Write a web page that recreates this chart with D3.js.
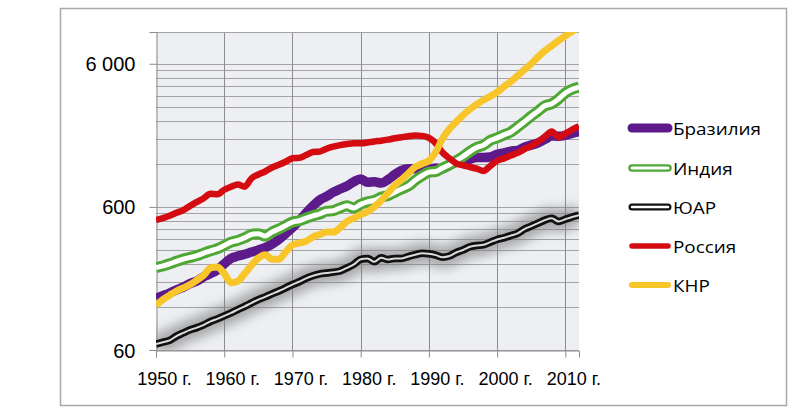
<!DOCTYPE html>
<html><head><meta charset="utf-8">
<script src="https://cdn.jsdelivr.net/npm/d3@7"></script>
<style>body{margin:0;background:#fff;} svg{display:block;}</style>
</head><body><svg id="c" width="800" height="418"></svg>
<script>
const years = d3.range(1950, 2013);
const brazil = [138,144,150,158,165,175,182,195,205,218,240,262,272,280,290,300,312,330,355,390,430,480,545,610,670,710,760,800,840,900,940,890,900,880,930,1010,1080,1110,1110,1140,1100,1120,1110,1170,1230,1270,1290,1330,1330,1340,1400,1430,1470,1490,1570,1620,1680,1780,1880,1870,1900,1960,2010];
const india = [226,232,240,250,259,266,274,285,296,306,322,340,350,365,385,390,375,400,420,445,470,480,500,520,535,560,565,590,610,590,625,650,665,700,720,760,800,840,920,990,1050,1060,1120,1180,1260,1350,1460,1560,1620,1750,1820,1910,2000,2170,2360,2580,2800,3050,3150,3400,3750,3980,4120];
const sa = [66,68,70,75,79,83,86,90,95,99,104,109,115,121,128,135,141,148,155,163,172,180,190,198,204,207,210,214,225,238,258,262,248,265,257,262,262,270,278,284,282,276,267,272,288,300,316,322,326,340,355,365,378,392,420,440,462,485,500,474,492,510,525];
const russia = [485,500,520,545,570,610,650,690,740,735,790,830,860,830,950,1010,1060,1130,1180,1240,1310,1320,1380,1450,1460,1530,1580,1620,1650,1670,1670,1690,1720,1740,1770,1810,1840,1870,1890,1880,1820,1670,1440,1310,1210,1170,1140,1110,1070,1160,1260,1310,1370,1430,1520,1600,1710,1860,2020,1840,1950,2080,2200];
const china = [123,135,145,155,163,172,185,200,225,228,205,177,182,205,235,263,278,258,258,290,325,335,345,370,385,400,400,430,475,500,530,555,600,665,750,850,930,1030,1140,1200,1260,1450,1800,2100,2350,2620,2880,3120,3350,3550,3800,4150,4500,4950,5450,6000,6700,7400,8000,8700,9400,10100,10800];
const seriesNames = ["Бразилия","Индия","ЮАР","Россия","КНР"];
const yTickValues = [60, 600, 6000];
const yTickLabels = ["60", "600", "6 000"];
const xTickValues = [1950, 1960, 1970, 1980, 1990, 2000, 2010];
const xTickLabels = ["1950 г.", "1960 г.", "1970 г.", "1980 г.", "1990 г.", "2000 г.", "2010 г."];

const seriesData = [brazil, india, sa, russia, china];
const styles = [
  {color:"#5c1a8b", w:9.5, inner:null, lw:9},
  {color:"#4fa834", w:11, inner:5, lw:7.5, lin:3},
  {color:"#111111", w:7.5, inner:2, lw:7, lin:2.5, glow:true},
  {color:"#d40b10", w:6.5, inner:null, lw:5.5},
  {color:"#f8c52a", w:7, inner:null, lw:6}
];

const svg = d3.select("#c");
const L = 156, R = 579, T = 32, B = 350;
const x = d3.scaleLinear().domain([1950, 2012]).range([L, R]);
const y = d3.scaleLog().domain([60, 10000]).range([B, T]);

const defs = svg.append("defs");
defs.append("clipPath").attr("id","clip").append("rect").attr("x",L).attr("y",T).attr("width",R-L).attr("height",B-T);
const f = defs.append("filter").attr("id","blur").attr("x","-20%").attr("y","-100%").attr("width","140%").attr("height","300%");
f.append("feGaussianBlur").attr("stdDeviation",5.5);

// outer frame
svg.append("rect").attr("x",60.5).attr("y",8.5).attr("width",726).attr("height",397)
  .attr("fill","#fff").attr("stroke","#a9a9a9").attr("stroke-width",1.5);

// plot background
svg.append("rect").attr("x",L).attr("y",T).attr("width",R-L).attr("height",B-T).attr("fill","#edeff3");

// horizontal gridlines
const gridVals = [];
[60, 600, 6000].forEach(d => { for (let k = 1; k <= 9; k++) { const v = d*k; if (v <= 10000) gridVals.push(v); } });
svg.append("g").selectAll("line").data(gridVals).join("line")
  .attr("x1",L).attr("x2",R).attr("y1",d=>Math.round(y(d))+0.5).attr("y2",d=>Math.round(y(d))+0.5)
  .attr("stroke","#a3a3a3").attr("stroke-width",1);
// vertical gridlines
svg.append("g").selectAll("line").data(xTickValues.slice(1)).join("line")
  .attr("x1",d=>Math.round(x(d))+0.5).attr("x2",d=>Math.round(x(d))+0.5).attr("y1",T).attr("y2",B)
  .attr("stroke","#8c8c8c").attr("stroke-width",1);
// top border
svg.append("line").attr("x1",L).attr("x2",R).attr("y1",T+0.5).attr("y2",T+0.5).attr("stroke","#a3a3a3");

// axes
const yAxis = d3.axisLeft(y).tickValues(yTickValues).tickFormat((d,i)=>yTickLabels[i]).tickSize(7).tickPadding(14);
const gy = svg.append("g").attr("transform",`translate(${L+0.5},0)`).call(yAxis);
gy.select(".domain").attr("stroke","#8c8c8c");
gy.selectAll(".tick line").attr("stroke","#8c8c8c");
gy.selectAll("text").attr("font-family","'Liberation Sans', Arial, sans-serif").attr("font-size",20).attr("fill","#000").attr("dy","0.35em");

const xAxis = d3.axisBottom(x).tickValues(xTickValues).tickFormat((d,i)=>xTickLabels[i]).tickSize(7).tickPadding(15);
const gx = svg.append("g").attr("transform",`translate(0,${B+0.5})`).call(xAxis);
gx.select(".domain").attr("stroke","#8c8c8c");
gx.selectAll(".tick line").attr("stroke","#8c8c8c");
gx.selectAll("text").attr("font-family","'Liberation Sans', Arial, sans-serif").attr("font-size",18).attr("fill","#000").attr("dx",8);

// lines
const line = d3.line().x((d,i)=>x(years[i])).y(d=>y(d)).curve(d3.curveMonotoneX);
const plot = svg.append("g").attr("clip-path","url(#clip)");
seriesData.forEach((s,i)=>{
  const st = styles[i];
  if (st.glow) {
    plot.append("path").attr("d",line(s)).attr("fill","none").attr("stroke","#7c7c7c").attr("stroke-width",22)
      .attr("stroke-linejoin","round").attr("opacity",0.6).attr("filter","url(#blur)");
  }
  plot.append("path").attr("d",line(s)).attr("fill","none").attr("stroke",st.color).attr("stroke-width",st.w)
    .attr("stroke-linejoin","round").attr("stroke-linecap","butt");
  if (st.inner) {
    plot.append("path").attr("d",line(s)).attr("fill","none").attr("stroke",st.glow?"#dcdcdc":"#fff").attr("stroke-width",st.inner)
      .attr("stroke-linejoin","round");
  }
});

// legend
const lg = svg.append("g");
const legY = [128, 168, 207, 246, 285];
seriesNames.forEach((n,i)=>{
  const st = styles[i];
  const g = lg.append("g").attr("transform",`translate(0,${legY[i]})`);
  g.append("line").attr("x1",632).attr("x2",668).attr("stroke",st.color).attr("stroke-width",st.lw).attr("stroke-linecap","round");
  if (st.lin) g.append("line").attr("x1",632).attr("x2",668).attr("stroke","#fff").attr("stroke-width",st.lin).attr("stroke-linecap","round");
  g.append("text").attr("transform","translate(673,6.5) scale(1.22,1)").attr("font-family","'Open Sans', sans-serif")
    .attr("font-size",15.5).attr("fill","#000").text(n);
});
</script></body></html>
